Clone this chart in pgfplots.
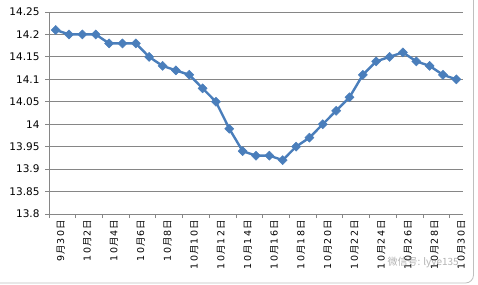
\documentclass[border=0pt]{standalone}
\usepackage{fontspec}
\setmainfont{DejaVu Sans}
\newfontfamily\cjk{Noto Sans CJK SC}
\usepackage{pgfplots}
\pgfplotsset{compat=1.18}
\definecolor{lineblue}{HTML}{4A7EBB}
\definecolor{gridgray}{HTML}{868686}
\newcommand\fw[1]{\makebox[7.7pt]{\rmfamily\fontsize{9.5}{10}\selectfont #1}}
\begin{document}
\begin{tikzpicture}[x=1pt,y=1pt]
\useasboundingbox (0,0) rectangle (478,284);
\begin{scope}
\clip (0,0) rectangle (478,284);
\draw[black!25, rounded corners=8pt, line width=0.8pt] (-10,1) rectangle (473.5,292);
\end{scope}
\begin{axis}[at={(49pt,70pt)}, anchor=south west, scale only axis,
  width=414pt, height=202pt,
  xmin=-0.5, xmax=30.5, ymin=13.8, ymax=14.25,
  axis x line*=bottom, axis y line*=left,
  axis line style={gridgray, line width=0.8pt},
  ytick={13.8,13.85,13.9,13.95,14,14.05,14.1,14.15,14.2,14.25},
  yticklabels={13.8,13.85,13.9,13.95,14,14.05,14.1,14.15,14.2,14.25},
  ymajorgrids, grid style={gridgray, line width=0.8pt},
  major tick length=4pt,
  ytick style={gridgray, line width=0.8pt},
  xtick={0,2,...,30},
  xticklabels={
    \fw{9}月\fw{3}\fw{0}日,
    \fw{1}\fw{0}月\fw{2}日,
    \fw{1}\fw{0}月\fw{4}日,
    \fw{1}\fw{0}月\fw{6}日,
    \fw{1}\fw{0}月\fw{8}日,
    \fw{1}\fw{0}月\fw{1}\fw{0}日,
    \fw{1}\fw{0}月\fw{1}\fw{2}日,
    \fw{1}\fw{0}月\fw{1}\fw{4}日,
    \fw{1}\fw{0}月\fw{1}\fw{6}日,
    \fw{1}\fw{0}月\fw{1}\fw{8}日,
    \fw{1}\fw{0}月\fw{2}\fw{0}日,
    \fw{1}\fw{0}月\fw{2}\fw{2}日,
    \fw{1}\fw{0}月\fw{2}\fw{4}日,
    \fw{1}\fw{0}月\fw{2}\fw{6}日,
    \fw{1}\fw{0}月\fw{2}\fw{8}日,
    \fw{1}\fw{0}月\fw{3}\fw{0}日},
  major x tick style={draw=none},
  minor xtick={-0.5,1.5,...,29.5},
  minor tick length=4pt, tick align=outside,
  minor x tick style={gridgray, line width=0.8pt},
  xticklabel style={rotate=90, anchor=east, font=\cjk\fontsize{9.5}{10}\selectfont, yshift=-5pt, inner sep=2pt},
  yticklabel style={anchor=east, font=\fontsize{10.5}{12}\selectfont, xshift=-2pt},
  clip=false,
]
\addplot[lineblue, line width=2.4pt, mark=square*, mark size=3.2pt,
  mark options={rotate=45, line width=0.5pt, fill=lineblue}] coordinates {
(0,14.21) (1,14.20) (2,14.20) (3,14.20) (4,14.18) (5,14.18) (6,14.18)
(7,14.15) (8,14.13) (9,14.12) (10,14.11) (11,14.08) (12,14.05) (13,13.99)
(14,13.94) (15,13.93) (16,13.93) (17,13.92) (18,13.95) (19,13.97) (20,14.00)
(21,14.03) (22,14.06) (23,14.11) (24,14.14) (25,14.15) (26,14.16) (27,14.14)
(28,14.13) (29,14.11) (30,14.10)};
\end{axis}
\node[anchor=west, text=gray, opacity=0.6, font=\cjk\fontsize{10}{11}\selectfont] at (384,22) {微信号: lyye135};
\end{tikzpicture}
\end{document}
